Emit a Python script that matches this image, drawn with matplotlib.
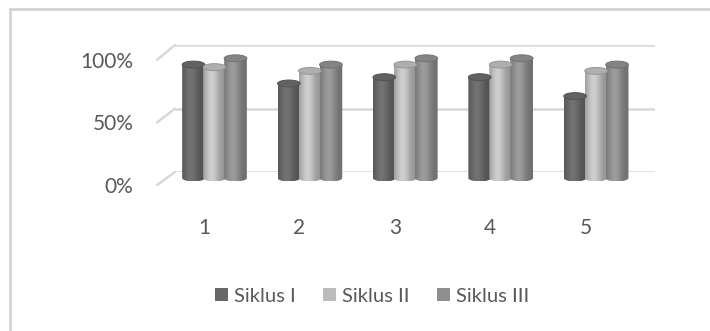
import numpy as np
import matplotlib
matplotlib.use("Agg")
import matplotlib.pyplot as plt
from matplotlib.patches import Ellipse, Polygon, Patch, Rectangle, ConnectionPatch
from matplotlib.colors import to_rgb

# ---- data -------------------------------------------------------------
categories = ["1", "2", "3", "4", "5"]
series_names = ["Siklus I", "Siklus II", "Siklus III"]
siklus_1 = [90, 75, 80, 80, 65]
siklus_2 = [88, 85, 90, 90, 85]
siklus_3 = [95, 90, 95, 95, 90]
y_ticks = [0, 50, 100]
y_tick_labels = ["0%", "50%", "100%"]

series_values = [siklus_1, siklus_2, siklus_3]
series_colors = ["#686868", "#bcbcbc", "#8e8e8e"]

plt.rcParams["font.family"] = ["Lato", "DejaVu Sans"]
TEXT = "#595959"
GRID = "#d9d9d9"

W, H = 710, 331
fig = plt.figure(figsize=(W / 100, H / 100), dpi=100)
fig.patch.set_facecolor("white")


def box(x0, x1, ytop, ybot):
    """Axes rectangle from pixel edges (origin top-left)."""
    return [x0 / W, 1 - ybot / H, (x1 - x0) / W, (ybot - ytop) / H]


# outer chart frame (runs off the right and bottom edges)
fig.patches.append(Rectangle((10 / W, -0.5), 2.0, 1.5 - 9 / H,
                             transform=fig.transFigure, fill=False,
                             edgecolor="#d4d4d4", lw=2.0))

pitch = 95.4  # pixel distance between category groups
n = len(categories)
xs = np.arange(n)

# back wall with the gridlines
ax_wall = fig.add_axes(box(175, 655, 45, 172))
ax_wall.set_ylim(0, 100)
ax_wall.set_xlim(0, 1)
for v in y_ticks:
    ax_wall.axhline(v, color=GRID, lw=1.8, zorder=0)
ax_wall.axis("off")

# front plane: tick labels and the start of the receding gridlines
x0_front = 157
ax_front = fig.add_axes(box(x0_front, x0_front + 500, 60, 185))
ax_front.set_facecolor("none")
ax_front.set_ylim(0, 100)
lo = -(204 - x0_front) / pitch
ax_front.set_xlim(lo, lo + 500 / pitch)
ax_front.set_yticks(y_ticks, y_tick_labels)
ax_front.set_xticks(xs, categories)
ax_front.tick_params(axis="y", length=0, pad=17, labelsize=15, labelcolor=TEXT)
ax_front.tick_params(axis="x", length=0, pad=24, labelsize=15, labelcolor=TEXT)
for sp in ax_front.spines.values():
    sp.set_visible(False)

for v in y_ticks:
    con = ConnectionPatch(xyA=(0, v), coordsA=ax_front.get_yaxis_transform(),
                          xyB=(0, v), coordsB=ax_wall.get_yaxis_transform(),
                          color=GRID, lw=1.8)
    fig.add_artist(con)

# bars
bx0, bx1, bytop, bybot = 150, 680, 30, 200
ax_bars = fig.add_axes(box(bx0, bx1, bytop, bybot))
ax_bars.set_facecolor("none")
zero_px, scale = 178.0, 1.26
xlo = -(214.5 - bx0) / pitch
xlim = (xlo, xlo + (bx1 - bx0) / pitch)
ylim = (-(bybot - zero_px) / scale, (zero_px - bytop) / scale)

bar_w = 21.0 / pitch
ell_h = 5.5
t = np.linspace(0, 1, 96)
profile = 0.78 + 0.32 * np.exp(-((t - 0.38) / 0.32) ** 2)


def cylinder(ax, xc, w, v, color):
    c = np.array(to_rgb(color))
    grad = np.clip(c[None, None, :] * profile[None, :, None], 0, 1)
    x0, x1 = xc - w / 2, xc + w / 2
    im = ax.imshow(grad, extent=(x0, x1, -ell_h / 2, v), aspect="auto",
                   interpolation="bilinear", zorder=2)
    th = np.linspace(np.pi, 2 * np.pi, 40)
    bottom = np.column_stack([xc + w / 2 * np.cos(th), ell_h / 2 * np.sin(th)])
    verts = np.vstack([[x0, v], bottom, [x1, v]])
    clip = Polygon(verts, closed=True, transform=ax.transData)
    im.set_clip_path(clip)
    top = Ellipse((xc, v), w, ell_h, facecolor=np.clip(c * 0.93, 0, 1),
                  edgecolor=np.clip(c * 0.80, 0, 1), lw=0.7, zorder=3)
    ax.add_patch(top)


for s, (vals, col) in enumerate(zip(series_values, series_colors)):
    for i, v in enumerate(vals):
        cylinder(ax_bars, xs[i] + (s - 1) * bar_w, bar_w * 1.08, v, col)

ax_bars.set_xlim(*xlim)
ax_bars.set_ylim(*ylim)
ax_bars.axis("off")

# legend
handles = [Patch(facecolor=c, edgecolor="none") for c in series_colors]
fig.legend(handles, series_names, loc="center",
           bbox_to_anchor=(372 / W, 1 - 296 / H), ncol=3, frameon=False,
           fontsize=14.5, labelcolor=TEXT, handlelength=0.65,
           handleheight=0.65, handletextpad=0.3, columnspacing=1.35)

fig.savefig("out.png", dpi=100, facecolor="white")
